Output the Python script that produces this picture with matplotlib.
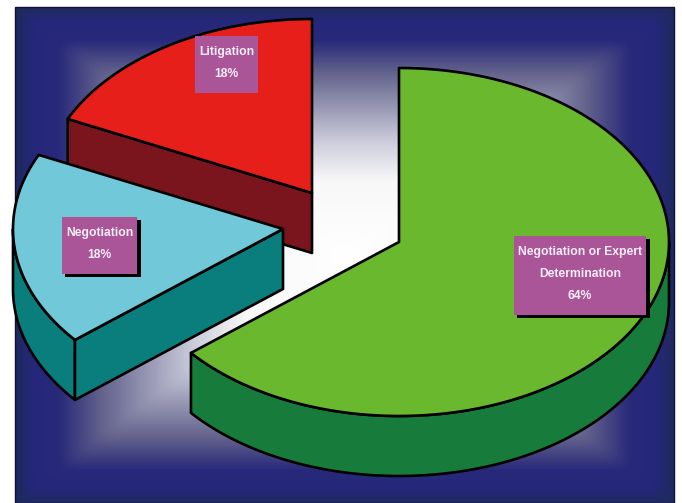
import numpy as np
import matplotlib
matplotlib.use("Agg")
import matplotlib.pyplot as plt
from matplotlib.colors import LinearSegmentedColormap
from matplotlib.patches import Polygon, Rectangle

# --- data ---
names = ["Negotiation or Expert\nDetermination", "Negotiation", "Litigation"]
shares = [64, 18, 18]

# --- style / layout, one entry per slice ---
top_colors = ["#69b82e", "#71c8d9", "#e61f1a"]
side_colors = ["#177c3b", "#0a7d7d", "#7a151e"]
centers = [(399, 242), (283, 229), (312, 193)]
boxes = [(514, 236, 132, 79), (62, 217, 75, 57), (195, 36, 63, 57)]
shadow = [True, True, False]

RX, RY = 270, 174   # ellipse radii in px
DEPTH = 60
W, H = 682, 503
LW = 1.9
FRAME = (15, 7, 674, 503)


def rim(cx, cy, a0, a1, n=200):
    # angles in degrees, clockwise from 12 o'clock
    t = np.radians(np.linspace(a0, a1, n))
    return np.column_stack([cx + RX * np.sin(t), cy - RY * np.cos(t)])


def draw_slice(ax, center, a0, a1, top, side):
    cx, cy = center
    down = np.array([0, DEPTH])
    edge = dict(ec="black", lw=LW, joinstyle="round")
    apex = np.array([cx, cy], dtype=float)

    # outer wall, only the part of the rim facing the viewer (90..270 deg)
    lo, hi = max(a0, 90), min(a1, 270)
    if lo < hi:
        arc = rim(cx, cy, lo, hi)
        ax.add_patch(Polygon(np.vstack([arc, arc[::-1] + down]), fc=side, **edge))

    # cut wall: seen from the front when the slice lies behind the radius
    if 180 < a0 < 360:
        p = rim(cx, cy, a0, a0, 1)[0]
        ax.add_patch(Polygon([apex, p, p + down, apex + down], fc=side, **edge))
    if 0 < a1 < 180:
        p = rim(cx, cy, a1, a1, 1)[0]
        ax.add_patch(Polygon([apex, p, p + down, apex + down], fc=side, **edge))

    ax.add_patch(Polygon(np.vstack([[cx, cy], rim(cx, cy, a0, a1)]), fc=top, **edge))


fig = plt.figure(figsize=(W / 100, H / 100), dpi=100, facecolor="white")
ax = fig.add_axes([0, 0, 1, 1])
ax.axis("off")

# backdrop: rectangular gradient, white middle to navy rim, seams softened
x0, y0, x1, y1 = FRAME
xx, yy = np.meshgrid(np.linspace(-1, 1, 330), np.linspace(-1, 1, 248))
grad = np.maximum(np.abs(xx), np.abs(yy))
kernel = np.hanning(15)
kernel /= kernel.sum()
pad = np.pad(grad, 7, mode="edge")
pad = np.apply_along_axis(lambda r: np.convolve(r, kernel, mode="valid"), 1, pad)
grad = np.apply_along_axis(lambda c: np.convolve(c, kernel, mode="valid"), 0, pad)
cmap = LinearSegmentedColormap.from_list("bg", [
    (0.0, "#ffffff"), (0.30, "#f8f8f9"), (0.46, "#ccccdc"),
    (0.74, "#62628c"), (0.87, "#28297a"), (0.95, "#25277a"), (1.0, "#1f2a5e")])
ax.imshow(grad, cmap=cmap, vmin=0, vmax=1, extent=(x0, x1, y1, y0), aspect="auto",
          interpolation="bilinear", zorder=0)
ax.add_patch(Rectangle((x0, y0), x1 - x0, y1 - y0, fc="none", ec="#10103a", lw=1.0))
ax.set_xlim(0, W)
ax.set_ylim(H, 0)

# slices, back to front
edges = np.cumsum([0] + shares) / sum(shares) * 360
for i in (2, 1, 0):
    draw_slice(ax, centers[i], edges[i], edges[i + 1], top_colors[i], side_colors[i])

# label boxes
for i, name in enumerate(names):
    bx, by, bw, bh = boxes[i]
    if shadow[i]:
        ax.add_patch(Rectangle((bx + 3, by + 3), bw + 1, bh, fc="black", ec="none"))
    ax.add_patch(Rectangle((bx, by), bw, bh, fc="#ab5599", ec="none"))
    lines = name.split("\n") + [f"{shares[i]}%"]
    mid = by + bh / 2 - 1.5
    for k, line in enumerate(lines):
        ax.text(bx + bw / 2, mid + (k - (len(lines) - 1) / 2) * 22, line,
                ha="center", va="center", color="#f6eef6", fontsize=8.75,
                fontweight="bold", family="Liberation Sans")

fig.savefig("out.png", dpi=100)
